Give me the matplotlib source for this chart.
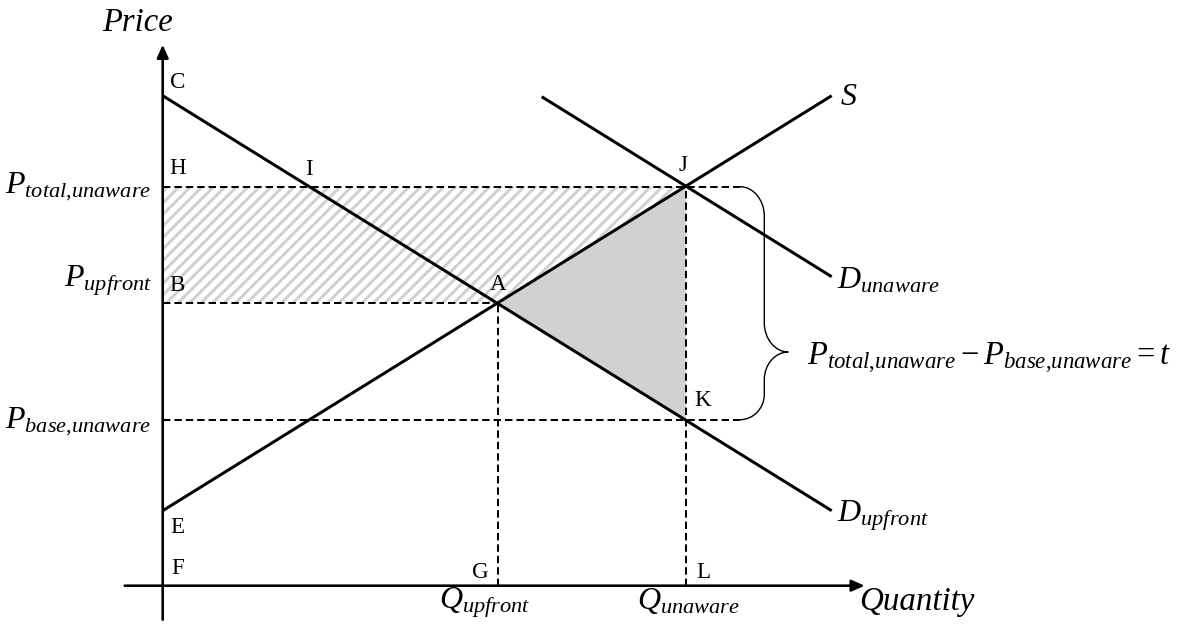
import numpy as np
import matplotlib
matplotlib.use("Agg")
import matplotlib.pyplot as plt
from matplotlib.patches import Polygon, PathPatch
from matplotlib.path import Path

plt.rcParams['font.family'] = ['Liberation Serif', 'DejaVu Serif']
plt.rcParams['mathtext.fontset'] = 'custom'
plt.rcParams['mathtext.rm'] = 'Liberation Serif'
plt.rcParams['mathtext.it'] = 'Liberation Serif:italic'
plt.rcParams['mathtext.bf'] = 'Liberation Serif:bold'

# ---- data (price / quantity units) ----
supply_q = [0.0, 66.9]
supply_p = [7.5, 49.0]
d_upfront_q = [0.0, 66.9]
d_upfront_p = [49.0, 7.5]
d_unaware_q = [37.9, 66.9]
d_unaware_p = [48.9, 30.9]

p_total_unaware = 39.9
p_upfront = 28.3
p_base_unaware = 16.6
q_upfront = 33.5
q_unaware = 52.3

# ---- figure ----
DPI = 144
fig = plt.figure(figsize=(1183 / DPI, 630 / DPI), dpi=DPI)
ax = fig.add_axes([0, 0, 1, 1])
ax.set_xlim(-16.27, 102.03)
ax.set_ylim(-4.43, 58.57)
ax.axis('off')

# hatched region H-J-A-B (diagonal light-grey stripes clipped to polygon)
hatch_poly = Polygon([(0, p_total_unaware), (q_unaware, p_total_unaware),
                      (q_upfront, p_upfront), (0, p_upfront)],
                     closed=True, facecolor='white', edgecolor='none', zorder=1)
ax.add_patch(hatch_poly)
stripe_step = 1.15
for c in np.arange(p_upfront - q_unaware - 1.0, p_total_unaware + 1.0, stripe_step):
    xs = np.array([-1.0, q_unaware + 1.0])
    ln, = ax.plot(xs, xs + c, color='#d0d0d0', lw=1.5, zorder=1.2,
                  solid_capstyle='butt')
    ln.set_clip_path(hatch_poly)

# grey triangle A-J-K
tri = Polygon([(q_upfront, p_upfront), (q_unaware, p_total_unaware),
               (q_unaware, p_base_unaware)], closed=True,
              facecolor='#d1d0d3', edgecolor='none', zorder=1.5)
ax.add_patch(tri)

# brace geometry
x0b, xmb, xtb = 57.73, 60.16, 62.56
y_tip = 23.37

dash = dict(color='black', lw=1.0, linestyle=(0, (3.7, 2.0)), zorder=2)
ax.plot([0, x0b], [p_total_unaware, p_total_unaware], **dash)
ax.plot([0, x0b], [p_base_unaware, p_base_unaware], **dash)
ax.plot([0, q_upfront], [p_upfront, p_upfront], **dash)
ax.plot([q_upfront, q_upfront], [0, p_upfront], **dash)
ax.plot([q_unaware, q_unaware], [0, p_total_unaware], **dash)

# curves
solid = dict(color='black', lw=1.5, solid_capstyle='butt', zorder=3)
ax.plot(supply_q, supply_p, **solid)
ax.plot(d_upfront_q, d_upfront_p, **solid)
ax.plot(d_unaware_q, d_unaware_p, **solid)

# axes with arrows
arrow = dict(arrowstyle='-|>,head_length=0.45,head_width=0.2', color='black',
             lw=1.3, shrinkA=0, shrinkB=0, mutation_scale=12)
ax.annotate('', xy=(0, 54.1), xytext=(0, -3.4), arrowprops=arrow, zorder=4)
ax.annotate('', xy=(70.2, 0), xytext=(-3.8, 0), arrowprops=arrow, zorder=4)

# brace
yt, yb = p_total_unaware, p_base_unaware
dx = xmb - x0b
dxt = xtb - xmb
d1, d2, d3, d4 = 2.94, 2.9, 2.77, 2.53
verts = [
    (x0b, yt),
    (x0b + 0.55 * dx, yt), (xmb, yt - 0.45 * d1), (xmb, yt - d1),
    (xmb, y_tip + d2),
    (xmb, y_tip + 0.45 * d2), (xtb - 0.55 * dxt, y_tip), (xtb, y_tip),
    (xtb - 0.55 * dxt, y_tip), (xmb, y_tip - 0.45 * d3), (xmb, y_tip - d3),
    (xmb, yb + d4),
    (xmb, yb + 0.45 * d4), (x0b + 0.55 * dx, yb), (x0b, yb),
]
codes = [Path.MOVETO,
         Path.CURVE4, Path.CURVE4, Path.CURVE4,
         Path.LINETO,
         Path.CURVE4, Path.CURVE4, Path.CURVE4,
         Path.CURVE4, Path.CURVE4, Path.CURVE4,
         Path.LINETO,
         Path.CURVE4, Path.CURVE4, Path.CURVE4]
ax.add_patch(PathPatch(Path(verts, codes), facecolor='none', edgecolor='black',
                       lw=0.7, zorder=3))

# axis titles
ax.text(-2.52, 55.5, 'Price', fontsize=16.3, style='italic', ha='center', va='baseline')
ax.text(69.6, -2.4, 'Quantity', fontsize=16.5, style='italic', ha='left', va='baseline')

# price labels
big = 16
ax.text(-1.1, 39.27, r'$P_{total{,}unaware}$', fontsize=big, ha='right', va='baseline')
ax.text(-1.1, 29.95, r'$P_{upfront}$', fontsize=big, ha='right', va='baseline')
ax.text(-1.1, 15.74, r'$P_{base{,}unaware}$', fontsize=big, ha='right', va='baseline')

# quantity labels
ax.text(32.2, -2.3, r'$Q_{upfront}$', fontsize=16, ha='center', va='baseline')
ax.text(52.6, -2.3, r'$Q_{unaware}$', fontsize=16, ha='center', va='baseline')

# curve labels
ax.text(67.7, 48.07, r'$S$', fontsize=big, ha='left', va='baseline')
ax.text(67.4, 29.74, r'$D_{unaware}$', fontsize=big, ha='left', va='baseline')
ax.text(67.4, 6.4, r'$D_{upfront}$', fontsize=big, ha='left', va='baseline')
ax.text(64.4, 22.07, r'$P_{total{,}unaware} - P_{base{,}unaware} = t$', fontsize=16.3,
        ha='left', va='baseline')

# point letters
pts = {'C': (1.5, 50.3), 'H': (1.5, 41.7), 'I': (14.66, 41.6),
       'B': (1.45, 30.0), 'A': (33.53, 30.1), 'J': (52.0, 42.0),
       'K': (54.0, 18.5), 'E': (1.5, 5.8), 'F': (1.5, 1.7),
       'G': (31.8, 1.3), 'L': (54.1, 1.3)}
for name, (x, y) in pts.items():
    ax.text(x, y, name, fontsize=11.5, ha='center', va='center')

fig.savefig('out.png', dpi=DPI, facecolor='white')
